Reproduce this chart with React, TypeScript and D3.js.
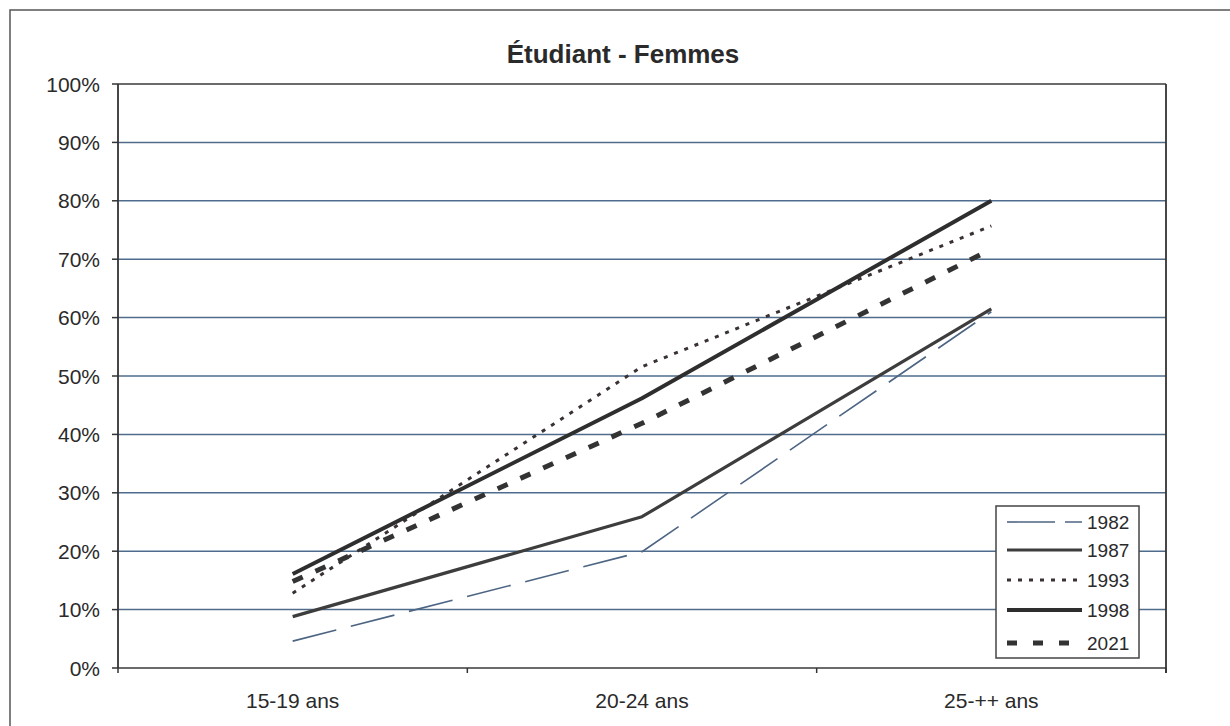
import React from "react";
import * as d3 from "d3";

const categories = ["15-19 ans", "20-24 ans", "25-++ ans"];
const years = ["1982", "1987", "1993", "1998", "2021"];
const v1982 = [4.6, 19.9, 61.0];
const v1987 = [8.8, 25.9, 61.5];
const v1993 = [12.8, 51.6, 75.7];
const v1998 = [16.1, 46.2, 80.0];
const v2021 = [14.8, 41.9, 71.7];
const yTicks = [0, 10, 20, 30, 40, 50, 60, 70, 80, 90, 100];
const title = "Étudiant - Femmes";

const seriesValues = [v1982, v1987, v1993, v1998, v2021];
const styles = [
  { stroke: "#4d6582", width: 1.6, dash: "45 15" },
  { stroke: "#3d3d3d", width: 3.2, dash: "" },
  { stroke: "#3a3232", width: 3, dash: "4 7" },
  { stroke: "#2e2e2e", width: 4, dash: "" },
  { stroke: "#333333", width: 5, dash: "11 14" },
];

export default function App() {
  const W = 1230, H = 726;
  const left = 118, right = 1166, top = 84, bottom = 668;
  const x = d3.scaleBand<string>().domain(categories).range([left, right]).padding(0);
  const y = d3.scaleLinear().domain([0, 100]).range([bottom, top]);
  const cx = (c: string) => (x(c) as number) + x.bandwidth() / 2;
  const line = d3.line<[number, number]>().x((d) => d[0]).y((d) => d[1]);
  const font = "'Liberation Sans', Arial, sans-serif";
  const bounds = [...categories.map((c) => x(c) as number), right];

  const lg = { x0: 996, y0: 506, w: 143, h: 152 };
  const legendY = [522, 550, 580, 610, 643];

  return (
    <svg width={W} height={H} style={{ position: "absolute", left: 0, top: 0, background: "#fff" }}>
      <rect x={0} y={0} width={W} height={H} fill="#fff" />
      <rect x={10} y={10} width={W + 20} height={H + 20} fill="none" stroke="#555" strokeWidth={1.5} />
      <text x={623} y={63} textAnchor="middle" fontFamily={font} fontWeight="bold" fontSize={26} fill="#2a2a2a">
        {title}
      </text>
      {yTicks.map((t) => (
        <g key={t}>
          <line x1={left} x2={right} y1={y(t)} y2={y(t)} stroke={t === 0 || t === 100 ? "#3a3a3a" : "#4f6c8c"} strokeWidth={1.5} />
          <line x1={left - 6} x2={left} y1={y(t)} y2={y(t)} stroke="#333" strokeWidth={1.5} />
          <text x={100} y={y(t)} dy="0.36em" textAnchor="end" fontFamily={font} fontSize={21} fill="#2a2a2a">
            {t}%
          </text>
        </g>
      ))}
      <line x1={left} x2={left} y1={top} y2={bottom} stroke="#333" strokeWidth={1.8} />
      <line x1={right} x2={right} y1={top} y2={bottom + 5} stroke="#333" strokeWidth={1.8} />
      {bounds.map((b, i) => (
        <line key={i} x1={b} x2={b} y1={bottom} y2={bottom + 5} stroke="#333" strokeWidth={1.5} />
      ))}
      {categories.map((c) => (
        <text key={c} x={cx(c)} y={708} textAnchor="middle" fontFamily={font} fontSize={21} fill="#2a2a2a">
          {c}
        </text>
      ))}
      {seriesValues.map((vals, i) => (
        <path
          key={years[i]}
          d={line(vals.map((v, j) => [cx(categories[j]), y(v)]) as [number, number][]) || ""}
          fill="none"
          stroke={styles[i].stroke}
          strokeWidth={styles[i].width}
          strokeDasharray={styles[i].dash || undefined}
          strokeLinejoin="round"
        />
      ))}
      <rect x={lg.x0} y={lg.y0} width={lg.w} height={lg.h} fill="#fff" stroke="#444" strokeWidth={1.5} />
      {years.map((yr, i) => (
        <g key={yr}>
          <line
            x1={1007}
            x2={1082}
            y1={legendY[i]}
            y2={legendY[i]}
            stroke={styles[i].stroke}
            strokeWidth={styles[i].width}
            strokeDasharray={i === 0 ? "48 10" : i === 4 ? "10 16" : styles[i].dash || undefined}
          />
          <text x={1087} y={legendY[i]} dy="0.36em" fontFamily={font} fontSize={19} fill="#2a2a2a">
            {yr}
          </text>
        </g>
      ))}
    </svg>
  );
}
